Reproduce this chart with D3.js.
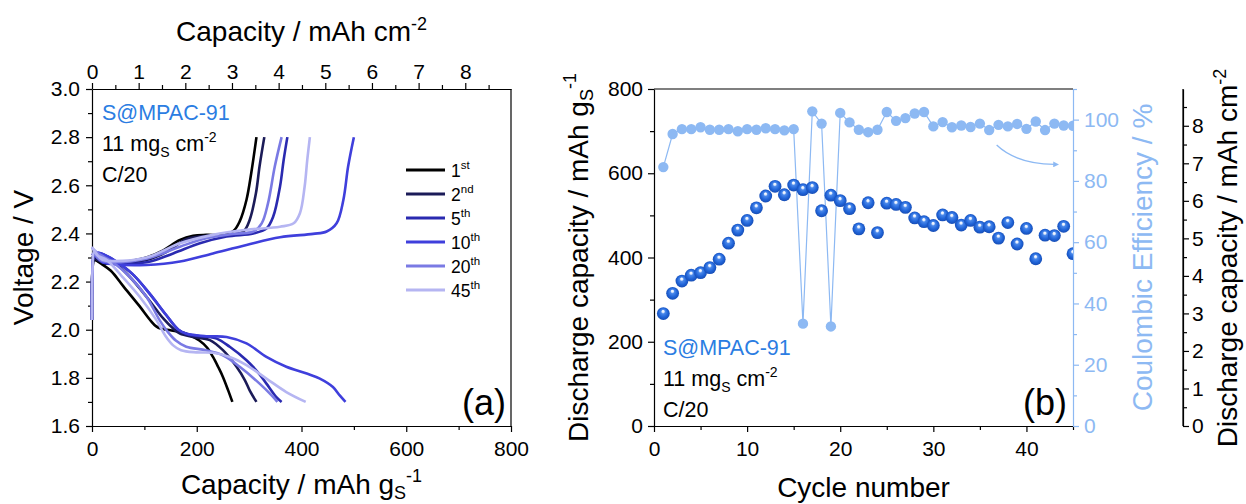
<!DOCTYPE html>
<html><head><meta charset="utf-8">
<script src="https://cdn.jsdelivr.net/npm/d3@7"></script>
<style>
body{margin:0;background:#fff;}
svg{display:block;font-family:"Liberation Sans",Arial,sans-serif;}
</style></head>
<body><svg id="c" width="1246" height="504"></svg>
<script>
// ---------------- DATA ----------------
const legendLabels = ["1", "2", "5", "10", "20", "45"];
const legendSup = ["st", "nd", "th", "th", "th", "th"];
const cycleColors = ["#000000", "#1b1b58", "#2a2ab0", "#3f3fdc", "#7a7ae4", "#b5b5f2"];

const discharge1 = [[0,2.30],[8,2.29],[17,2.275],[36,2.245],[60,2.18],[90,2.10],[113,2.035],[122,2.015],[132,2.004],[150,1.998],[170,1.99],[187,1.977],[205,1.955],[220,1.925],[231,1.887],[241,1.845],[250,1.804],[260,1.748],[268,1.70]];
const discharge2 = [[0,2.30],[10,2.31],[25,2.30],[40,2.285],[72,2.22],[104,2.137],[136,2.047],[155,2.005],[168,1.984],[193,1.97],[225,1.957],[250,1.915],[276,1.846],[292,1.79],[301,1.748],[314,1.70]];
const discharge5 = [[0,2.31],[12,2.32],[25,2.31],[45,2.285],[78,2.23],[110,2.15],[142,2.06],[165,2.0],[180,1.982],[206,1.973],[238,1.963],[263,1.929],[295,1.873],[318,1.82],[333,1.776],[352,1.72],[362,1.70]];
const discharge10 = [[0,2.31],[12,2.32],[25,2.31],[45,2.285],[78,2.23],[110,2.15],[142,2.06],[165,2.0],[180,1.984],[218,1.973],[257,1.97],[295,1.943],[333,1.887],[371,1.846],[410,1.818],[435,1.797],[460,1.762],[473,1.727],[484,1.70]];
const discharge20 = [[0,2.34],[10,2.32],[25,2.30],[40,2.28],[72,2.22],[104,2.137],[129,2.04],[145,1.99],[160,1.955],[180,1.929],[218,1.915],[250,1.894],[282,1.846],[320,1.776],[343,1.727],[354,1.70]];
const discharge45 = [[0,2.345],[10,2.31],[28,2.29],[58,2.22],[91,2.137],[123,2.04],[140,1.975],[155,1.935],[170,1.915],[199,1.906],[231,1.904],[263,1.887],[295,1.853],[333,1.797],[371,1.741],[408,1.70]];

const charge1 = [[0,2.04],[1,2.25],[4,2.29],[10,2.285],[20,2.275],[40,2.275],[72,2.285],[104,2.30],[136,2.33],[168,2.373],[193,2.39],[218,2.394],[250,2.395],[270,2.41],[282,2.45],[295,2.54],[304,2.65],[314,2.80]];
const charge2 = [[0,2.04],[1,2.25],[4,2.30],[10,2.29],[20,2.28],[40,2.276],[104,2.29],[140,2.32],[180,2.376],[218,2.39],[257,2.394],[289,2.408],[301,2.456],[313,2.567],[320,2.68],[329,2.80]];
const charge5 = [[0,2.04],[1,2.25],[4,2.31],[10,2.30],[20,2.285],[40,2.276],[104,2.28],[155,2.317],[206,2.359],[257,2.387],[308,2.40],[333,2.42],[346,2.47],[359,2.595],[366,2.706],[373,2.80]];
const charge10 = [[0,2.04],[1,2.25],[4,2.31],[10,2.30],[20,2.28],[40,2.272],[104,2.269],[168,2.283],[231,2.317],[295,2.352],[359,2.384],[422,2.398],[448,2.408],[467,2.442],[480,2.54],[489,2.678],[500,2.80]];
const charge20 = [[0,2.04],[1,2.25],[4,2.32],[10,2.30],[20,2.285],[40,2.28],[104,2.295],[168,2.345],[218,2.38],[270,2.398],[308,2.408],[324,2.442],[336,2.525],[349,2.678],[362,2.80]];
const charge45 = [[0,2.04],[1,2.25],[4,2.33],[10,2.31],[20,2.29],[40,2.285],[104,2.30],[168,2.359],[231,2.394],[295,2.415],[359,2.428],[385,2.442],[397,2.484],[406,2.595],[411,2.706],[416,2.80]];

const cycles = [1,2,3,4,5,6,7,8,9,10,11,12,13,14,15,16,17,18,19,20,21,22,23,24,25,26,27,28,29,30,31,32,33,34,35,36,37,38,39,40,41,42,43,44,45];
const dischargeCap = [267,315,344,358,364,376,396,434,465,488,518,546,569,549,572,561,566,511,548,535,516,468,530,459,529,526,519,494,485,476,501,495,477,488,472,473,446,483,432,469,397,453,452,474,409];
const coulombicEff = [84.5,95.3,96.9,96.9,97.5,96.7,96.7,96.9,96.2,96.9,96.7,97.2,96.9,96.5,96.9,33.4,102.7,98.7,32.5,102.2,99.1,96.7,95.9,96.7,102.5,99.6,100.5,102.0,102.5,97.8,99.2,97.5,98.1,97.6,98.7,96.6,98.3,97.8,98.6,97.0,99.4,96.6,98.7,98.1,98.0];

const voltTicks = [1.6,1.8,2.0,2.2,2.4,2.6,2.8,3.0];
const capGTicks = [0,200,400,600,800];
const capCmTicks = [0,1,2,3,4,5,6,7,8];
const cycleTicks = [0,10,20,30,40];
const dischTicks = [0,200,400,600,800];
const ceTicks = [0,20,40,60,80,100];
const arealTicks = [0,1,2,3,4,5,6,7,8];

// ---------------- SETUP ----------------
const svg = d3.select("#c");
const BLACK = "#000", CE = "#8db9f3", SBLUE = "#2b7de2";
const TICKFS = 21, TITLEFS = 28, ANNFS = 21.5;

const xL = d3.scaleLinear([0,800],[92,511]);
const yL = d3.scaleLinear([1.6,3.0],[426,89]);
const xTop = d3.scaleLinear([0,8.98],[92,511]);
const xR = d3.scaleLinear([0,45],[654,1073]);
const yR = d3.scaleLinear([0,800],[426,89]);
const yCE = d3.scaleLinear([0,110],[426,89]);
const yA = d3.scaleLinear([0,8.98],[426,89]);

function drawAxis(axisGen, scale, majors, minors, transform, color, pad, fmt){
  const g = svg.append("g").attr("transform", transform);
  const mn = axisGen(scale).tickValues(minors).tickSize(4).tickSizeOuter(0).tickFormat("");
  g.append("g").call(mn).call(s=>s.select(".domain").remove());
  const mj = axisGen(scale).tickValues(majors).tickSize(6).tickSizeOuter(0).tickPadding(pad).tickFormat(fmt);
  g.append("g").call(mj);
  g.selectAll("line,path").attr("stroke", color).attr("stroke-width", 1.2);
  g.selectAll("text").attr("fill", color).attr("font-size", TICKFS).attr("font-family", '"Liberation Sans",Arial,sans-serif');
  return g;
}

// ---------------- PANEL A ----------------
drawAxis(d3.axisLeft, yL, voltTicks, [1.7,1.9,2.1,2.3,2.5,2.7,2.9], "translate(92,0)", BLACK, 6, d3.format(".1f"));
drawAxis(d3.axisBottom, xL, capGTicks, [100,300,500,700], "translate(0,426)", BLACK, 9, d3.format("d"));
drawAxis(d3.axisTop, xTop, capCmTicks, [0.5,1.5,2.5,3.5,4.5,5.5,6.5,7.5,8.5], "translate(0,89)", BLACK, 4, d3.format("d"));
svg.append("line").attr("x1", xL(800)).attr("x2", xL(800)).attr("y1", yL(1.6)).attr("y2", yL(3.0)).attr("stroke", BLACK).attr("stroke-width",1.2);

const lineL = d3.line().x(d=>xL(d[0])).y(d=>yL(d[1])).curve(d3.curveCatmullRom.alpha(0.5));
const dis = [discharge1,discharge2,discharge5,discharge10,discharge20,discharge45];
const chg = [charge1,charge2,charge5,charge10,charge20,charge45];
const curves = svg.append("g");
for(let i=0;i<6;i++){
  curves.append("path").attr("d", lineL(dis[i])).attr("fill","none").attr("stroke",cycleColors[i]).attr("stroke-width",2.6).attr("stroke-linejoin","round");
  curves.append("path").attr("d", lineL(chg[i])).attr("fill","none").attr("stroke",cycleColors[i]).attr("stroke-width",2.6).attr("stroke-linejoin","round");
}

// legend
const leg = svg.append("g");
legendLabels.forEach((lab,i)=>{
  const y = 170 + i*24;
  leg.append("line").attr("x1",406).attr("x2",445).attr("y1",y).attr("y2",y).attr("stroke",cycleColors[i]).attr("stroke-width",3.2);
  const t = leg.append("text").attr("x",451).attr("y",y+7).attr("font-size",17.5).attr("fill",BLACK);
  t.append("tspan").text(lab);
  t.append("tspan").attr("font-size",11.5).attr("dy",-8).text(legendSup[i]);
});

function annot(x, y0){
  svg.append("text").attr("x",x).attr("y",y0).attr("font-size",ANNFS).attr("fill",SBLUE).text("S@MPAC-91");
  const t = svg.append("text").attr("x",x).attr("y",y0+31).attr("font-size",ANNFS).attr("fill",BLACK);
  t.append("tspan").text("11 mg");
  t.append("tspan").attr("font-size",14).attr("dy",6).text("S");
  t.append("tspan").attr("dy",-6).text(" cm");
  t.append("tspan").attr("font-size",14).attr("dy",-9).text("-2");
  svg.append("text").attr("x",x).attr("y",y0+62).attr("font-size",ANNFS).attr("fill",BLACK).text("C/20");
}
annot(102,120);
svg.append("text").attr("x",506).attr("y",415).attr("text-anchor","end").attr("font-size",36).text("(a)");

// titles panel A
{
  const t = svg.append("text").attr("x",301.5).attr("y",41).attr("text-anchor","middle").attr("font-size",TITLEFS);
  t.append("tspan").text("Capacity / mAh cm");
  t.append("tspan").attr("font-size",18).attr("dy",-11).text("-2");
  const b = svg.append("text").attr("x",301.5).attr("y",494).attr("text-anchor","middle").attr("font-size",TITLEFS);
  b.append("tspan").text("Capacity / mAh g");
  b.append("tspan").attr("font-size",18).attr("dy",5).text("S");
  b.append("tspan").attr("font-size",18).attr("dy",-17).text("-1");
  svg.append("text").attr("transform","translate(33,257.5) rotate(-90)").attr("text-anchor","middle").attr("font-size",TITLEFS).text("Voltage / V");
}

// ---------------- PANEL B ----------------
drawAxis(d3.axisLeft, yR, dischTicks, [100,300,500,700], "translate(654,0)", BLACK, 5, d3.format("d"));
drawAxis(d3.axisBottom, xR, cycleTicks, [5,15,25,35,45], "translate(0,426)", BLACK, 9, d3.format("d"));
drawAxis(d3.axisRight, yCE, ceTicks, [10,30,50,70,90,110], "translate(1073,0)", CE, 5, d3.format("d"));
drawAxis(d3.axisRight, yA, arealTicks, [0.5,1.5,2.5,3.5,4.5,5.5,6.5,7.5,8.5], "translate(1183,0)", BLACK, 3, d3.format("d"));
svg.append("line").attr("x1",1183).attr("x2",1183).attr("y1",yA(0)).attr("y2",89).attr("stroke",BLACK).attr("stroke-width",1.2);
svg.append("line").attr("x1",xR(0)).attr("x2",xR(45)).attr("y1",89).attr("y2",89).attr("stroke",BLACK).attr("stroke-width",1.2);

const defs = svg.append("defs");
defs.append("clipPath").attr("id","clipB").append("rect").attr("x",654).attr("y",80).attr("width",419).attr("height",346);
const rg = defs.append("radialGradient").attr("id","sph").attr("cx","50%").attr("cy","50%").attr("r","55%").attr("fx","48%").attr("fy","30%");
[["0%","#ffffff"],["16%","#e0ebfd"],["30%","#4a88ea"],["65%","#2064d8"],["100%","#1548ad"]].forEach(s=>rg.append("stop").attr("offset",s[0]).attr("stop-color",s[1]));
defs.append("marker").attr("id","arr").attr("viewBox","0 0 10 10").attr("refX",2).attr("refY",5).attr("markerWidth",4.5).attr("markerHeight",4.5).attr("orient","auto")
  .append("path").attr("d","M0,0 L10,5 L0,10 z").attr("fill",CE);

const gB = svg.append("g").attr("clip-path","url(#clipB)");
const ceLine = d3.line().x((d,i)=>xR(cycles[i])).y(d=>yCE(d));
gB.append("path").attr("d", ceLine(coulombicEff)).attr("fill","none").attr("stroke",CE).attr("stroke-width",1.2);
gB.selectAll("circle.ce").data(coulombicEff).join("circle").attr("class","ce")
  .attr("cx",(d,i)=>xR(cycles[i])).attr("cy",d=>yCE(d)).attr("r",5.2).attr("fill",CE);
gB.selectAll("circle.dc").data(dischargeCap).join("circle").attr("class","dc")
  .attr("cx",(d,i)=>xR(cycles[i])).attr("cy",d=>yR(d)).attr("r",6.4).attr("fill","url(#sph)");

// curved arrow
svg.append("path").attr("d",`M${xR(36.8)},${yCE(91.7)} Q${xR(38.9)},${yCE(85.6)} ${xR(43.0)},${yCE(85.4)}`)
  .attr("fill","none").attr("stroke",CE).attr("stroke-width",1.3).attr("marker-end","url(#arr)");

annot(663,355);
svg.append("text").attr("x",1067).attr("y",415).attr("text-anchor","end").attr("font-size",36).text("(b)");

{
  svg.append("text").attr("x",863.5).attr("y",497).attr("text-anchor","middle").attr("font-size",TITLEFS).text("Cycle number");
  const l = svg.append("text").attr("transform","translate(588,257.5) rotate(-90)").attr("text-anchor","middle").attr("font-size",TITLEFS);
  l.append("tspan").text("Discharge capacity / mAh g");
  l.append("tspan").attr("font-size",18).attr("dy",5).text("S");
  l.append("tspan").attr("font-size",18).attr("dy",-17).text("-1");
  svg.append("text").attr("transform","translate(1152,257.5) rotate(-90)").attr("text-anchor","middle").attr("font-size",TITLEFS).attr("fill",CE).text("Coulombic Efficiency / %");
  const r = svg.append("text").attr("transform","translate(1237,258) rotate(-90)").attr("text-anchor","middle").attr("font-size",TITLEFS);
  r.append("tspan").text("Discharge capacity / mAh cm");
  r.append("tspan").attr("font-size",18).attr("dy",-11).text("-2");
}
</script></body></html>
